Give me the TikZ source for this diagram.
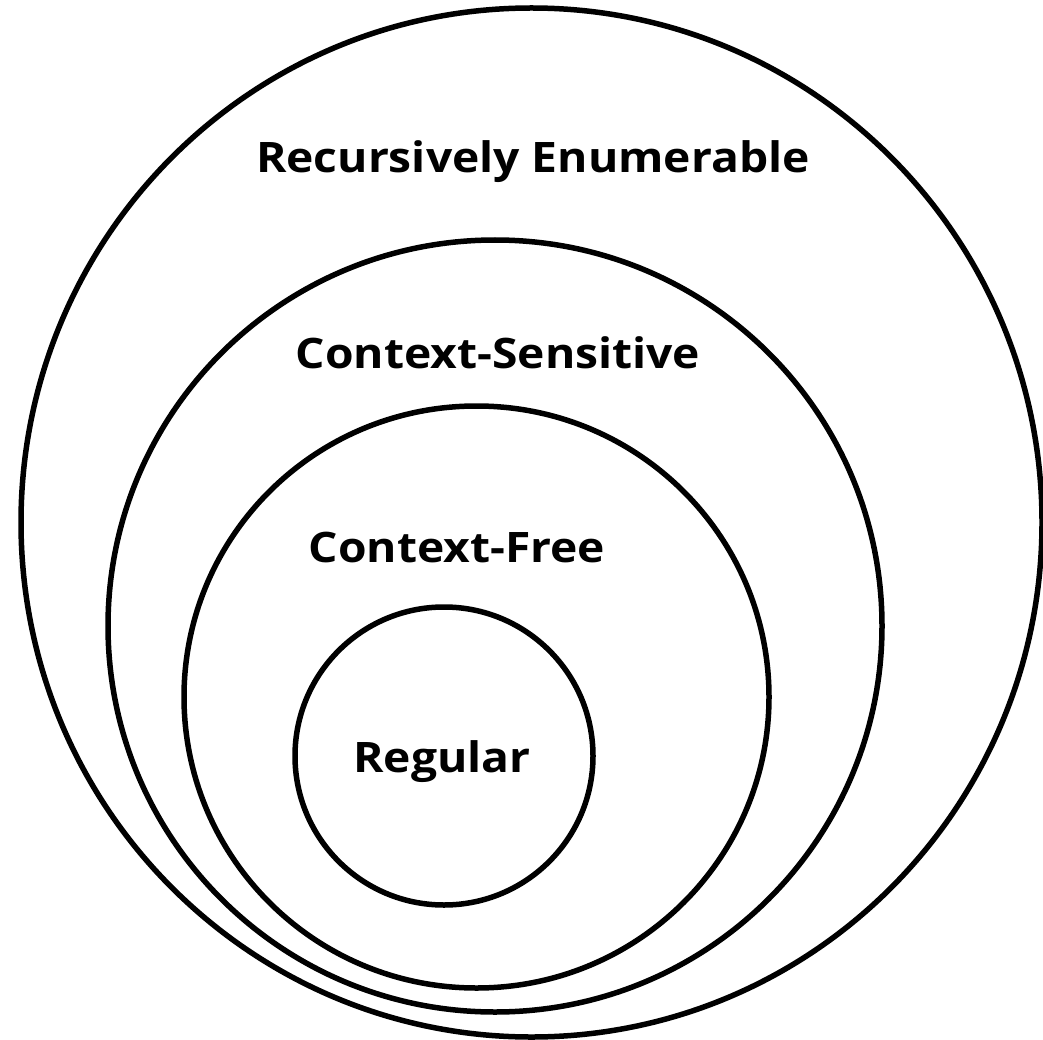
\documentclass[tikz,border=0pt]{standalone}
\usepackage{fontspec}
\setmainfont{Open Sans}[FakeStretch=1.1]
\usetikzlibrary{shapes.geometric}
\tikzset{
  ring/.style={draw=black, line width=5.5pt, ellipse, inner sep=0pt, outer sep=0pt},
  lbl/.style={font=\fontsize{42}{42}\selectfont\bfseries, anchor=base, inner sep=0pt}
}
\begin{document}
\begin{tikzpicture}[x=1pt, y=1pt]
  \useasboundingbox (0,0) rectangle (1043,-1040);
  % nested language classes of the Chomsky hierarchy
  \node[ring, minimum width=1021pt, minimum height=1029pt] (re)  at (531.5,-522.5) {};
  \node[ring, minimum width=774pt,  minimum height=772pt]  (cs)  at (495,-626) {};
  \node[ring, minimum width=585pt,  minimum height=582pt]  (cf)  at (476.5,-697) {};
  \node[ring, minimum width=298pt,  minimum height=298pt]  (reg) at (444,-756) {};
  % class names
  \node[lbl] (reLabel)  at (533,-173) {Recursively Enumerable};
  \node[lbl] (csLabel)  at (498,-368) {Context-Sensitive};
  \node[lbl] (cfLabel)  at (457,-562) {Context-Free};
  \node[lbl] (regLabel) at (442,-772) {Regular};
\end{tikzpicture}
\end{document}
